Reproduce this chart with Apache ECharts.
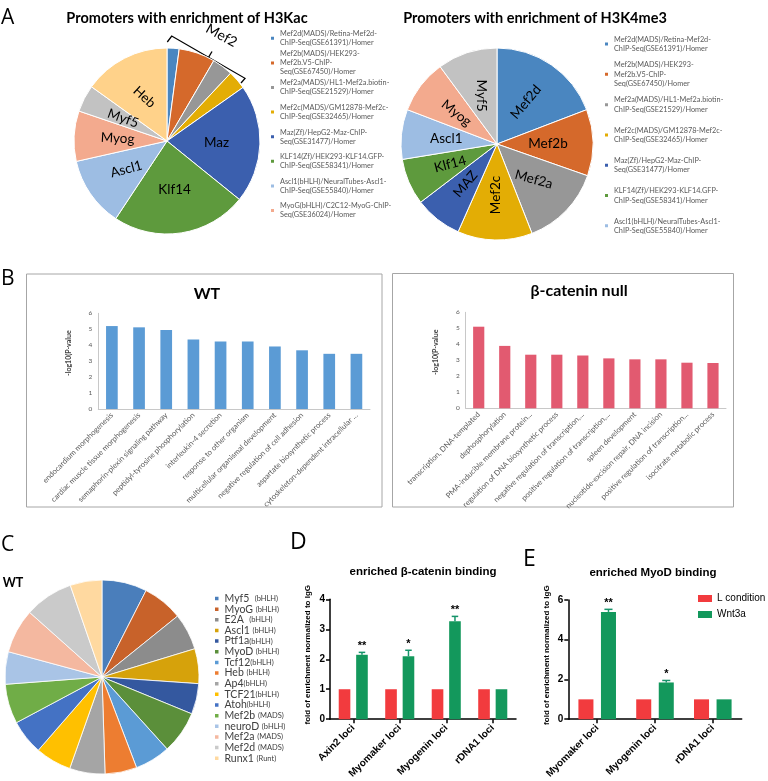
<!DOCTYPE html>
<html><head><meta charset="utf-8">
<script src="https://cdn.jsdelivr.net/npm/echarts@6/dist/echarts.min.js"></script>
<style>html,body{margin:0;padding:0;background:#fff}#c{width:768px;height:781px}</style>
</head><body><div id="c"></div>
<script>
// ---------------- DATA ----------------
// Panel A (left): promoters with enrichment of H3Kac
const h3kacNames = ['Mef2d','Mef2b','Mef2a','Mef2c','Maz','Klf14','Ascl1','Myog','Myf5','Heb'];
const h3kacValues = [2.1, 6.3, 3.6, 3.25, 20.6, 23.5, 12.2, 8.75, 4.7, 15.1];
const h3kacLabels = ['', '', '', '', 'Maz', 'Klf14', 'Ascl1', 'Myog', 'Myf5', 'Heb'];
const h3kacLegend = ['Mef2d','Mef2b','Mef2a','Mef2c','Maz','Klf14','Ascl1','Myog'];
// Panel A (right): promoters with enrichment of H3K4me3
const h3k4Names = ['Mef2d','Mef2b','Mef2a','Mef2c','Maz','Klf14','Ascl1','Myog','Myf5'];
const h3k4Values = [19.2, 11.2, 13.7, 12.6, 8.0, 7.8, 8.4, 9.1, 10.1];
const h3k4Labels = ['Mef2d','Mef2b','Mef2a','Mef2c','MAZ','Klf14','Ascl1','Myog','Myf5'];
const h3k4Legend = ['Mef2d','Mef2b','Mef2a','Mef2c','Maz','Klf14','Ascl1'];
const motifLegendText = {
  Mef2d: 'Mef2d(MADS)/Retina-Mef2d-\nChIP-Seq(GSE61391)/Homer',
  Mef2b: 'Mef2b(MADS)/HEK293-\nMef2b.V5-ChIP-\nSeq(GSE67450)/Homer',
  Mef2a: 'Mef2a(MADS)/HL1-Mef2a.biotin-\nChIP-Seq(GSE21529)/Homer',
  Mef2c: 'Mef2c(MADS)/GM12878-Mef2c-\nChIP-Seq(GSE32465)/Homer',
  Maz: 'Maz(Zf)/HepG2-Maz-ChIP-\nSeq(GSE31477)/Homer',
  Klf14: 'KLF14(Zf)/HEK293-KLF14.GFP-\nChIP-Seq(GSE58341)/Homer',
  Ascl1: 'Ascl1(bHLH)/NeuralTubes-Ascl1-\nChIP-Seq(GSE55840)/Homer',
  Myog: 'MyoG(bHLH)/C2C12-MyoG-ChIP-\nSeq(GSE36024)/Homer'
};
// Panel B: GO terms, -log10(P-value)
const wtTerms = ['endocardium morphogenesis','cardiac muscle tissue morphogenesis','semaphorin-plexin signaling pathway','peptidyl-tyrosine phosphorylation','interleukin-4 secretion','response to other organism','multicellular organismal development','negative regulation of cell adhesion','aspartate biosynthetic process','cytoskeleton-dependent intracellular ...'];
const wtValues = [5.2, 5.12, 4.96, 4.35, 4.23, 4.23, 3.92, 3.68, 3.46, 3.46];
const bcTerms = ['transcription, DNA-templated','dephosphorylation','PMA-inducible membrane protein...','regulation of DNA biosynthetic process','negative regulation of transcription,...','positive regulation of transcription,...','spleen development','nucleotide-excision repair, DNA incision','positive regulation of transcription...','isocitrate metabolic process'];
const bcValues = [5.1, 3.9, 3.35, 3.35, 3.3, 3.12, 3.06, 3.06, 2.85, 2.83];
const yTicksB = ['0','1','2','3','4','5','6'];
// Panel C: WT motifs
const cNames = ['Myf5  (bHLH)','MyoG (bHLH)','E2A  (bHLH)','Ascl1 (bHLH)','Ptf1a(bHLH)','MyoD (bHLH)','Tcf12(bHLH)','Heb (bHLH)','Ap4(bHLH)','TCF21(bHLH)','Atoh(bHLH)','Mef2b (MADS)','neuroD (bHLH)','Mef2a (MADS)','Mef2d (MADS)','Runx1 (Runt)'];
const cValues = [7.5, 6.7, 6.1, 5.8, 5.1, 7.1, 5.9, 5.3, 5.9, 6.0, 5.8, 6.6, 5.4, 7.4, 8.1, 5.3];
// Panel D: enriched beta-catenin binding
const dLoci = ['Axin2 loci','Myomaker loci','Myogenin loci','rDNA1 loci'];
const dControl = [1, 1, 1, 1];
const dWnt = [2.15, 2.1, 3.27, 1];
const dWntErr = [0.08, 0.2, 0.16, 0];
const dStars = ['**','*','**',''];
// Panel E: enriched MyoD binding
const eLoci = ['Myomaker loci','Myogenin loci','rDNA1 loci'];
const eControl = [1, 1, 1];
const eWnt = [5.4, 1.85, 1];
const eWntErr = [0.13, 0.1, 0];
const eStars = ['**','*',''];
const seriesNames = ['L condition','Wnt3a'];

// ---------------- STYLE ----------------
const motifColors = {Mef2d:'#4A86C0', Mef2b:'#D5692B', Mef2a:'#979797', Mef2c:'#E3AD05', Maz:'#3B5FAE',
  Klf14:'#5E9A3D', Ascl1:'#9DBDE3', Myog:'#F3AA8E', Myf5:'#C2C2C2', Heb:'#FFD28A'};
const h3kacRotate = {Maz:0, Klf14:0, Ascl1:15, Myog:-3, Myf5:-20, Heb:-42};
const h3k4Rotate = {Mef2d:50, Mef2b:0, Mef2a:-15, Mef2c:90, Maz:50, Klf14:15, Ascl1:0, Myog:-38, Myf5:-90};
const cPalette = ['#4A7EBB','#C8622A','#8C8C8C','#D6A20B','#34589F','#5B8F3A','#5B9BD5','#ED7D31','#A5A5A5','#FFC000','#4472C4','#70AD47','#A9C4E6','#F4B8A0','#CACACA','#FFD9A0'];
const RED = '#F23B3E', GREEN = '#13985C', ERR = '#16946A';
const FONT = 'Lato', ARIAL = 'Liberation Sans';

function pieData(names, values, colors, rot) {
  return names.map((n, i) => ({name: n, value: values[i], itemStyle: {color: colors[n]}, label: {rotate: rot[n] || 0}}));
}
function motifLegendItems(names, lh) {
  return names.map(n => {
    const lines = motifLegendText[n].split('\n').length;
    return {name: n, textStyle: {padding: [2 * lh, 0, (3 - lines) * lh, 0]}};
  });
}
function errRender(offsetFrac, errs, stars) {
  return function (params, api) {
    const i = api.value(0), v = api.value(1), e = errs[i];
    const band = api.size([1, 0])[0];
    const base = api.coord([i, v]);
    const x = base[0] + band * offsetFrac;
    const top = api.coord([i, v + e])[1];
    const cap = band * 0.07;
    const ch = [];
    if (e > 0) {
      ch.push({type: 'line', shape: {x1: x, y1: base[1], x2: x, y2: top}, style: {stroke: ERR, lineWidth: 1.5}});
      ch.push({type: 'line', shape: {x1: x - cap, y1: top, x2: x + cap, y2: top}, style: {stroke: ERR, lineWidth: 1.5}});
    }
    if (stars[i]) ch.push({type: 'text', style: {text: stars[i], x: x, y: top - 1, align: 'center', verticalAlign: 'bottom',
      fontFamily: ARIAL, fontWeight: 'bold', fontSize: 11, fill: '#000'}});
    return {type: 'group', children: ch};
  };
}
function goAxisX(idx, terms) {
  return {type: 'category', gridIndex: idx, data: terms,
    axisLine: {lineStyle: {color: '#C8C8C8'}}, axisTick: {show: false},
    axisLabel: {rotate: 45, interval: 0, fontSize: 7.6, color: '#595959', margin: 5, fontFamily: FONT}};
}
function goAxisY(idx) {
  return {type: 'value', gridIndex: idx, min: 0, max: 6, interval: 1,
    axisLine: {show: true, lineStyle: {color: '#C8C8C8'}}, axisTick: {show: false}, splitLine: {show: false},
    axisLabel: {fontSize: 6.5, color: '#595959', margin: 6, formatter: v => yTicksB[v]},
    name: '-log10(P-value', nameLocation: 'middle', nameGap: 26,
    nameTextStyle: {fontSize: 7, fontWeight: 'bold', color: '#404040', fontFamily: FONT, padding: [0, 0, 0, 16]}};
}
function qAxisX(idx, loci) {
  return {type: 'category', gridIndex: idx, data: loci,
    axisLine: {lineStyle: {color: '#000', width: 1.5}},
    axisTick: {show: true, alignWithLabel: true, length: 4, lineStyle: {color: '#000', width: 1.5}},
    axisLabel: {rotate: 45, interval: 0, fontSize: 10, fontWeight: 'bold', color: '#000', margin: 7, fontFamily: ARIAL}};
}
function qAxisY(idx, max, interval, gap) {
  return {type: 'value', gridIndex: idx, min: 0, max: max, interval: interval,
    axisLine: {show: true, lineStyle: {color: '#000', width: 1.5}},
    axisTick: {show: true, length: 4, lineStyle: {color: '#000', width: 1.5}}, splitLine: {show: false},
    axisLabel: {fontSize: 10, fontWeight: 'bold', color: '#000', margin: 5, fontFamily: ARIAL},
    name: 'fold of enrichment normalized to IgG', nameLocation: 'middle', nameGap: gap,
    nameTextStyle: {fontSize: 8, fontWeight: 'bold', color: '#000', fontFamily: ARIAL, padding: [0, 0, 0, 9]}};
}

const letter = (t, l, tp, s) => ({text: t, left: l, top: tp, padding: 0, textStyle: {fontFamily: 'Open Sans', fontWeight: 'normal', fontSize: s || 21, color: '#000'}});
const ttl = (t, cx, tp, s, fam) => ({text: t, left: cx, top: tp, padding: 0, textAlign: 'center', textStyle: {fontFamily: fam || FONT, fontWeight: 'bold', fontSize: s, color: '#000'}});

const option = {
  animation: false,
  textStyle: {fontFamily: FONT},
  title: [
    letter('A', 1, 8), letter('B', 1, 269), letter('C', 1, 535), letter('D', 290, 531, 23), letter('E', 523, 548, 23),
    ttl('Promoters with enrichment of H3Kac', 187, 11, 14.5),
    ttl('Promoters with enrichment of H3K4me3', 535, 11, 14.5),
    ttl('WT', 207, 286, 16),
    ttl('β-catenin null', 579, 283, 16),
    ttl('WT', 13, 576, 12.5),
    ttl('enriched β-catenin binding', 423, 566, 11.5, ARIAL),
    ttl('enriched MyoD binding', 653, 567, 11.5, ARIAL)
  ],
  legend: [
    {orient: 'vertical', left: 269, top: 15.8, padding: 0, itemWidth: 5, itemHeight: 5, itemGap: 24.6 - 45, icon: 'rect', selectedMode: false,
      data: motifLegendItems(h3kacLegend, 9), formatter: n => motifLegendText[n],
      textStyle: {fontSize: 7.3, lineHeight: 9, color: '#595959', fontFamily: FONT, backgroundColor: 'rgba(255,255,255,0)'}},
    {orient: 'vertical', left: 603, top: 20.8, padding: 0, itemWidth: 5, itemHeight: 5, itemGap: 30.3 - 46.5, icon: 'rect', selectedMode: false,
      data: motifLegendItems(h3k4Legend, 9.3), formatter: n => motifLegendText[n],
      textStyle: {fontSize: 7.3, lineHeight: 9.3, color: '#595959', fontFamily: FONT, backgroundColor: 'rgba(255,255,255,0)'}},
    {orient: 'vertical', left: 213, top: 593, padding: 0, itemWidth: 5.5, itemHeight: 5.5, itemGap: -0.35, icon: 'rect', selectedMode: false,
      data: cNames,
      formatter: n => { const k = n.indexOf('('); return '{n|' + n.slice(0, k) + '}{s|' + n.slice(k) + '}'; },
      textStyle: {rich: {n: {fontSize: 10.5, lineHeight: 10, color: '#404040', fontFamily: FONT}, s: {fontSize: 7.5, lineHeight: 10, color: '#404040', fontFamily: FONT}}}},
    {orient: 'vertical', left: 698, top: 593.5, padding: 0, itemWidth: 14, itemHeight: 7, itemGap: 6, icon: 'rect', selectedMode: false,
      data: seriesNames, textStyle: {fontSize: 10, color: '#000', fontFamily: ARIAL}}
  ],
  grid: [
    {left: 98.3, top: 313.3, width: 271.7, height: 95.7},
    {left: 465.7, top: 312.3, width: 260.3, height: 96},
    {left: 330, top: 599.3, width: 186, height: 122.4},
    {left: 568.3, top: 600, width: 173.4, height: 121.7}
  ],
  xAxis: [goAxisX(0, wtTerms), goAxisX(1, bcTerms), qAxisX(2, dLoci), qAxisX(3, eLoci)],
  yAxis: [goAxisY(0), goAxisY(1), qAxisY(2, 4, 1, 18), qAxisY(3, 6, 2, 18)],
  series: [
    {type: 'pie', center: [167, 141], radius: 93, startAngle: 90, clockwise: true,
      data: pieData(h3kacNames, h3kacValues, motifColors, h3kacRotate),
      itemStyle: {borderColor: '#fff', borderWidth: 1},
      label: {position: 'inside', formatter: p => h3kacLabels[p.dataIndex], fontSize: 13.5, color: '#000', fontFamily: FONT},
      labelLine: {show: false}, emphasis: {disabled: true}},
    {type: 'pie', center: [497, 144], radius: 96, startAngle: 90, clockwise: true,
      data: pieData(h3k4Names, h3k4Values, motifColors, h3k4Rotate),
      itemStyle: {borderColor: '#fff', borderWidth: 1},
      label: {position: 'inside', formatter: p => h3k4Labels[p.dataIndex], fontSize: 13.5, color: '#000', fontFamily: FONT},
      labelLine: {show: false}, emphasis: {disabled: true}},
    {type: 'bar', xAxisIndex: 0, yAxisIndex: 0, data: wtValues, barWidth: '43%', itemStyle: {color: '#5B9BD5'}},
    {type: 'bar', xAxisIndex: 1, yAxisIndex: 1, data: bcValues, barWidth: '43%', itemStyle: {color: '#E25A70'}},
    {type: 'pie', center: [102, 677], radius: 97, startAngle: 90, clockwise: true,
      data: cNames.map((n, i) => ({name: n, value: cValues[i], itemStyle: {color: cPalette[i]}})),
      itemStyle: {borderColor: '#fff', borderWidth: 0.8}, label: {show: false}, labelLine: {show: false}, emphasis: {disabled: true}},
    {type: 'bar', name: seriesNames[0], xAxisIndex: 2, yAxisIndex: 2, data: dControl, barWidth: '25%', barGap: '50%', itemStyle: {color: RED}},
    {type: 'bar', name: seriesNames[1], xAxisIndex: 2, yAxisIndex: 2, data: dWnt, barWidth: '25%', barGap: '50%', itemStyle: {color: GREEN}},
    {type: 'custom', xAxisIndex: 2, yAxisIndex: 2, data: dWnt.map((v, i) => [i, v]), renderItem: errRender(0.1875, dWntErr, dStars), z: 5},
    {type: 'bar', name: seriesNames[0], xAxisIndex: 3, yAxisIndex: 3, data: eControl, barWidth: '26%', barGap: '50%', itemStyle: {color: RED}},
    {type: 'bar', name: seriesNames[1], xAxisIndex: 3, yAxisIndex: 3, data: eWnt, barWidth: '26%', barGap: '50%', itemStyle: {color: GREEN}},
    {type: 'custom', xAxisIndex: 3, yAxisIndex: 3, data: eWnt.map((v, i) => [i, v]), renderItem: errRender(0.195, eWntErr, eStars), z: 5}
  ],
  graphic: [
    {type: 'rect', shape: {x: 26.5, y: 274, width: 355.5, height: 233}, style: {fill: 'none', stroke: '#A6A6A6', lineWidth: 1}},
    {type: 'rect', shape: {x: 392.5, y: 273.5, width: 341, height: 233.5}, style: {fill: 'none', stroke: '#A6A6A6', lineWidth: 1}},
    {type: 'polyline', shape: {points: [[167.3, 42], [171.7, 36], [245, 78.3], [241, 83]]}, style: {stroke: '#000', lineWidth: 1.3, fill: 'none'}},
    {type: 'line', shape: {x1: 208.5, y1: 57.3, x2: 212, y2: 51.5}, style: {stroke: '#000', lineWidth: 1.3}},
    {type: 'text', x: 221.5, y: 35.5, rotation: -0.5, style: {text: 'Mef2', align: 'center', verticalAlign: 'middle', fontSize: 14, fontFamily: FONT, fill: '#000'}}
  ]
};
const chart = echarts.init(document.getElementById('c'));
chart.setOption(option);
</script></body></html>
